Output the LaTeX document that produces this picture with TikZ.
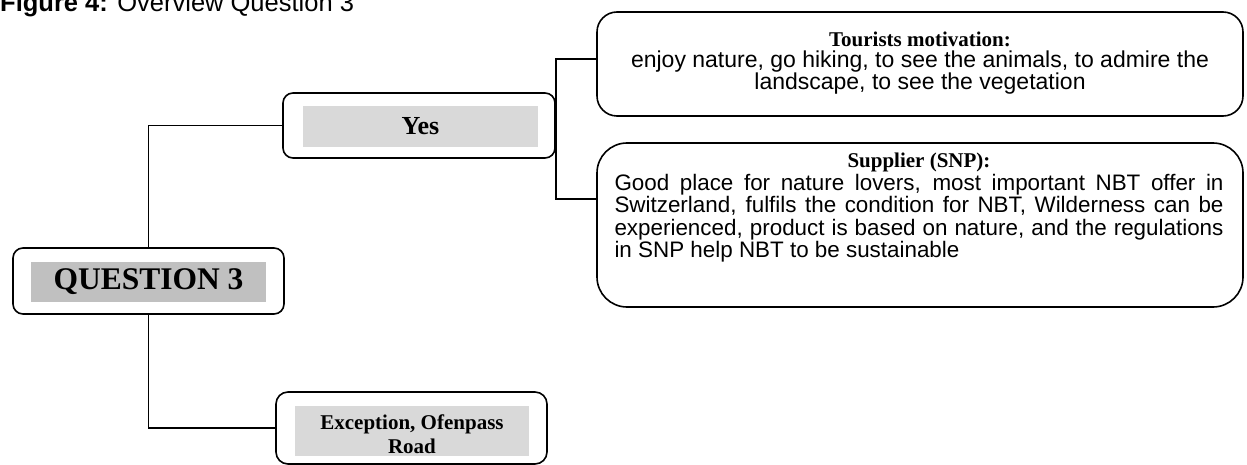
\documentclass[tikz,border=0pt]{standalone}
\usepackage{fontspec}
\setmainfont{Liberation Serif}
\setsansfont{Liberation Sans}
\definecolor{qgrey}{HTML}{C0C0C0}
\definecolor{lgrey}{HTML}{D9D9D9}
% word spacing for the current size (argument in em)
\newcommand\setwordgap[1]{\spaceskip=#1em plus .25em minus .06em\relax}
\begin{document}
\begin{tikzpicture}[x=1pt,y=-1pt,
  frame/.style={draw, line width=1.6pt, rounded corners=#1, inner sep=0pt},
  band/.style={fill=#1, inner sep=0pt, align=center},
  conn/.style={draw, line width=1.6pt},
  serifhead/.style={font=\fontsize{21}{24}\selectfont\bfseries\setwordgap{.25}}]
\useasboundingbox (0,0) rectangle (1247,465);

% caption
\node[anchor=base west, inner sep=0pt, font=\sffamily\fontsize{25.5}{26}\selectfont\setwordgap{.278}]
  (title) at (0,12) {\textbf{Figure 4:} Overview Question 3};

% root
\node[frame=10pt, minimum width=271pt, minimum height=66pt] (q3) at (148.5,281) {};
\node[band=qgrey, minimum width=235pt, minimum height=40pt,
      font=\fontsize{31.5}{33}\selectfont\bfseries\setwordgap{.25}] (q3t) at (148.5,282) {QUESTION 3};

% answer branches
\node[frame=10pt, minimum width=272pt, minimum height=65pt] (yes) at (419,125.5) {};
\node[band=lgrey, minimum width=235pt, minimum height=41pt,
      font=\fontsize{26}{28}\selectfont\bfseries] (yest) at (420.5,126.5) {Yes};

\node[frame=12pt, minimum width=271pt, minimum height=72pt] (exc) at (411.5,428) {};
\node[band=lgrey, minimum width=234pt, minimum height=50pt] (exct) at (412,431) {};
\node[serifhead, inner sep=0pt, align=center] (excl) at (412,434)
  {Exception, Ofenpass\\Road};

% detail boxes
\node[frame=20pt, minimum width=646pt, minimum height=104pt] (tour) at (920,64) {};
\node[inner sep=0pt, text width=630pt] (tourt) at (920,63)
  {\centering
   \fontsize{21}{22}\selectfont\bfseries\setwordgap{.25}Tourists motivation:\par
   \sffamily\mdseries\fontsize{23}{21.5}\selectfont\setwordgap{.278}%
   enjoy nature, go hiking, to see the animals, to admire the\par
   landscape, to see the vegetation\par};

\node[frame=30pt, minimum width=646pt, minimum height=164pt] (sup) at (920,225) {};
\node[inner sep=0pt, text width=609pt] (supt) at (919,208)
  {\hyphenpenalty=10000\tolerance=9999
   {\centering\fontsize{21}{22}\selectfont\bfseries\setwordgap{.25}Supplier (SNP):\par}
   \leftskip=0pt\rightskip=0pt\parfillskip=0pt plus 1fil
   \noindent\sffamily\fontsize{22.4}{22.5}\selectfont\setwordgap{.278}%
   Good place for nature lovers, most important NBT offer in\linebreak
   Switzerland, fulfils the condition for NBT, Wilderness can be\linebreak
   experienced, product is based on nature, and the regulations\linebreak
   in SNP help NBT to be sustainable\par};

% connectors
\draw[conn] (q3.north) |- (yes.west);
\draw[conn] (q3.south) |- (exc.west);
\draw[conn] ([yshift=5pt]tour.west) -| (yes.east);
\draw[conn] ([yshift=26pt]sup.west) -| (yes.east);
\end{tikzpicture}
\end{document}
